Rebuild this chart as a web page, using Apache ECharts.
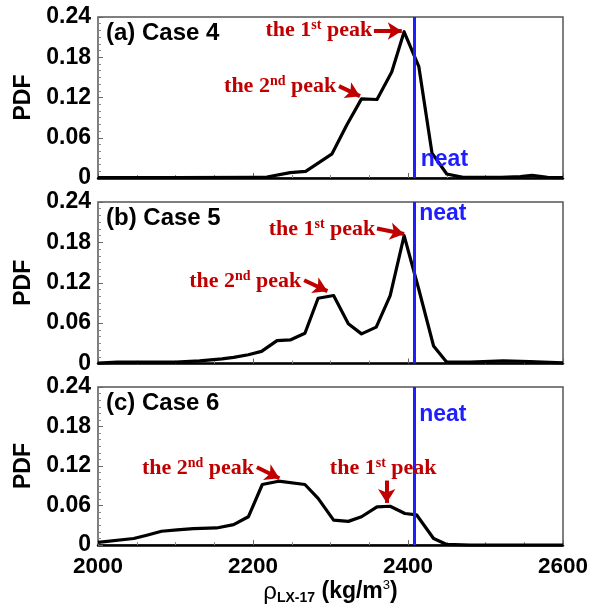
<!DOCTYPE html>
<html>
<head>
<meta charset="utf-8">
<script src="https://cdn.jsdelivr.net/npm/echarts@6/dist/echarts.min.js"></script>
<style>
  html, body { margin: 0; padding: 0; background: #fff; }
  #chart { width: 600px; height: 606px; }
</style>
</head>
<body>
<div id="chart"></div>
<script>
// PDF of LX-17 density for three cases
const densityX4 = [2000, 2100, 2200, 2218, 2248, 2268, 2302, 2321, 2340, 2360, 2379, 2395, 2414, 2431, 2450, 2471, 2520, 2545, 2560, 2580, 2600];
const pdf4      = [0.0005, 0.0005, 0.001, 0.0015, 0.008, 0.010, 0.036, 0.079, 0.118, 0.117, 0.158, 0.218, 0.166, 0.037, 0.006, 0.001, 0.001, 0.002, 0.004, 0.001, 0.0005];

const densityX5 = [2000, 2025, 2060, 2100, 2131, 2160, 2175, 2194, 2211, 2231, 2248, 2267, 2284, 2304, 2323, 2340, 2359, 2377, 2395, 2414, 2433, 2450, 2480, 2523, 2557, 2600];
const pdf5      = [0.0005, 0.002, 0.002, 0.002, 0.004, 0.007, 0.009, 0.013, 0.018, 0.034, 0.035, 0.045, 0.097, 0.101, 0.059, 0.044, 0.054, 0.101, 0.190, 0.110, 0.026, 0.002, 0.002, 0.004, 0.003, 0.001];

const densityX6 = [2000, 2046, 2063, 2082, 2102, 2123, 2153, 2175, 2194, 2212, 2233, 2267, 2284, 2304, 2323, 2340, 2360, 2377, 2396, 2411, 2433, 2450, 2480, 2600];
const pdf6      = [0.004, 0.010, 0.015, 0.021, 0.023, 0.025, 0.026, 0.031, 0.043, 0.092, 0.097, 0.092, 0.071, 0.038, 0.036, 0.043, 0.058, 0.059, 0.048, 0.046, 0.010, 0.001, 0, 0];

const caseTitles = ['(a) Case 4', '(b) Case 5', '(c) Case 6'];
const xTicks = [2000, 2200, 2400, 2600];
const yTicks = [0, 0.06, 0.12, 0.18, 0.24];
const neatDensity = 2408;

const RED = '#c00000';
const BLUE = '#1e1eff';
const SANS = 'Liberation Sans, Arial, sans-serif';
const SERIF = 'Liberation Serif, Times New Roman, serif';

// peak callouts: text anchor and arrow (from -> to), in data units
const callouts = [
  [
    { text: 'st', num: '1', at: [2285, 0.2205], arrow: [[2356, 0.2191], [2392, 0.2191]] },
    { text: 'nd', num: '2', at: [2235, 0.136], arrow: [[2311, 0.137], [2338, 0.122]] }
  ],
  [
    { text: 'st', num: '1', at: [2289, 0.1995], arrow: [[2360, 0.2005], [2395, 0.1925]] },
    { text: 'nd', num: '2', at: [2190, 0.1215], arrow: [[2266, 0.1237], [2296, 0.1075]] }
  ],
  [
    { text: 'nd', num: '2', at: [2129, 0.117], arrow: [[2205, 0.1181], [2234, 0.1015]] },
    { text: 'st', num: '1', at: [2368, 0.117], arrow: [[2372.5, 0.098], [2372.5, 0.064]] }
  ]
];
const neatLabelAt = [[2447, 0.028], [2445, 0.2222], [2445, 0.1973]];

const gridTops = [17, 202, 387];
const gridHeights = [161, 161.5, 160.5];

function zip(xs, ys) { return xs.map((x, i) => [x, ys[i]]); }
const seriesData = [zip(densityX4, pdf4), zip(densityX5, pdf5), zip(densityX6, pdf6)];

const peakRich = {
  t: { fontFamily: SERIF, fontWeight: 'bold', fontSize: 22, color: RED, lineHeight: 24 },
  s: { fontFamily: SERIF, fontWeight: 'bold', fontSize: 14, color: RED, lineHeight: 14, verticalAlign: 'top' }
};

const grids = [], xAxes = [], yAxes = [], series = [], titles = [];
for (let i = 0; i < 3; i++) {
  grids.push({
    left: 98, width: 465, top: gridTops[i], height: gridHeights[i],
    show: true, borderColor: '#555', borderWidth: 1.5, backgroundColor: '#fff'
  });
  const isBottom = i === 2;
  xAxes.push({
    gridIndex: i, type: 'value',
    min: xTicks[0], max: xTicks[xTicks.length - 1], interval: xTicks[1] - xTicks[0],
    axisLine: { show: true, onZero: false, lineStyle: { color: '#000', width: 2.5 } },
    axisTick: { show: true, inside: true, length: 5, lineStyle: { color: '#666', width: 1 } },
    minorTick: { show: true, splitNumber: 4, length: 3, lineStyle: { color: '#888', width: 1 } },
    splitLine: { show: false },
    axisLabel: {
      show: isBottom, margin: 10,
      fontFamily: SANS, fontWeight: 'bold', fontSize: 22.5, color: '#000',
      formatter: v => String(Math.round(v))
    },
    name: isBottom ? '{r|ρ}{sub|LX-17}{b| (kg/m}{sup|3}{b|)}' : '',
    nameLocation: 'middle', nameGap: 30,
    nameTextStyle: {
      rich: {
        r: { fontFamily: SANS, fontSize: 24, color: '#000', lineHeight: 26 },
        sub: { fontFamily: SANS, fontWeight: 'bold', fontSize: 14, color: '#000', verticalAlign: 'bottom', lineHeight: 14 },
        b: { fontFamily: SANS, fontWeight: 'bold', fontSize: 23, color: '#000', lineHeight: 26 },
        sup: { fontFamily: SANS, fontSize: 13, color: '#000', verticalAlign: 'top', lineHeight: 13 }
      }
    }
  });
  yAxes.push({
    gridIndex: i, type: 'value',
    min: yTicks[0], max: yTicks[yTicks.length - 1], interval: yTicks[1] - yTicks[0],
    axisLine: { show: false },
    axisTick: { show: true, inside: true, length: 5, lineStyle: { color: '#666', width: 1 } },
    minorTick: { show: true, splitNumber: 6, length: 3, lineStyle: { color: '#888', width: 1 } },
    splitLine: { show: false },
    axisLabel: {
      margin: 7, fontFamily: SANS, fontWeight: 'bold', fontSize: 23, color: '#000',
      padding: [4, 0, 0, 0],
      formatter: v => {
        const k = yTicks.findIndex(t => Math.abs(t - v) < 1e-9);
        return k === 0 ? '0' : yTicks[k].toFixed(2);
      }
    },
    name: 'PDF', nameLocation: 'middle', nameRotate: 90, nameGap: 58,
    nameTextStyle: { fontFamily: SANS, fontWeight: 'bold', fontSize: 23, color: '#000' }
  });

  const arrowLines = callouts[i].map(c => [
    { coord: c.arrow[0], symbol: 'none', lineStyle: { color: RED, width: 4, type: 'solid' } },
    { coord: c.arrow[1], symbol: 'arrow', symbolSize: [13, 14] }
  ]);
  const marks = callouts[i].map(c => ({
    coord: c.at,
    label: { formatter: '{t|the ' + c.num + '}{s|' + c.text + '}{t| peak}' }
  }));
  marks.push({
    coord: neatLabelAt[i],
    label: { formatter: 'neat', fontFamily: SANS, fontWeight: 'bold', fontSize: 23, color: BLUE }
  });

  series.push({
    type: 'line', xAxisIndex: i, yAxisIndex: i,
    data: seriesData[i], showSymbol: false, symbol: 'none', smooth: false,
    lineStyle: { color: '#000', width: 3.2, join: 'round' },
    z: 3,
    markLine: {
      silent: true, animation: false, precision: 4,
      symbol: ['none', 'none'],
      label: { show: false },
      data: [
        { xAxis: neatDensity, lineStyle: { color: BLUE, width: 3, type: 'solid' } },
        ...arrowLines
      ]
    },
    markPoint: {
      silent: true, animation: false,
      symbol: 'circle', symbolSize: 1,
      itemStyle: { color: 'rgba(0,0,0,0)' },
      label: { show: true, position: 'inside', rich: peakRich },
      data: marks
    }
  });

  titles.push({
    text: caseTitles[i], left: 106, top: gridTops[i] + 4,
    textStyle: { fontFamily: SANS, fontWeight: 'bold', fontSize: 24, color: '#000' },
    padding: 0
  });
}

const chart = echarts.init(document.getElementById('chart'), null, { renderer: 'canvas' });
chart.setOption({
  animation: false,
  backgroundColor: '#fff',
  title: titles,
  grid: grids,
  xAxis: xAxes,
  yAxis: yAxes,
  series: series
});
</script>
</body>
</html>
